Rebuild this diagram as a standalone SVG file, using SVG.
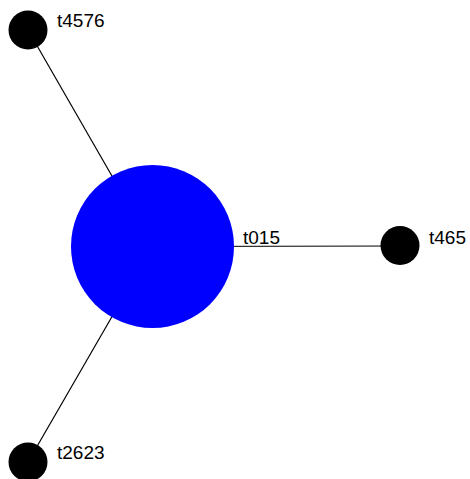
<svg xmlns="http://www.w3.org/2000/svg" width="470" height="479" viewBox="0 0 470 479">
<style>
.edge{stroke:#000;stroke-width:1.2;fill:none}
.leaf{fill:#000}
.hub{fill:#0000ff}
.lbl{font-family:"Liberation Sans",Arial,sans-serif;font-size:19px;fill:#000}
</style>
<rect width="470" height="479" fill="#fff"/>
<g id="edges">
<line class="edge" x1="152.5" y1="246.5" x2="28" y2="30"/>
<line class="edge" x1="152.5" y1="246.5" x2="400" y2="246"/>
<line class="edge" x1="152.5" y1="246.5" x2="28" y2="462"/>
</g>
<g id="t015"><circle class="hub" cx="152.5" cy="246.5" r="81.5"/><text class="lbl" x="243" y="244">t015</text></g>
<g id="t4576"><circle class="leaf" cx="28" cy="30" r="19.5"/><text class="lbl" x="57" y="27">t4576</text></g>
<g id="t465"><circle class="leaf" cx="400" cy="245.5" r="19.5"/><text class="lbl" x="429" y="244">t465</text></g>
<g id="t2623"><circle class="leaf" cx="28" cy="462" r="19.5"/><text class="lbl" x="57" y="459">t2623</text></g>
</svg>
